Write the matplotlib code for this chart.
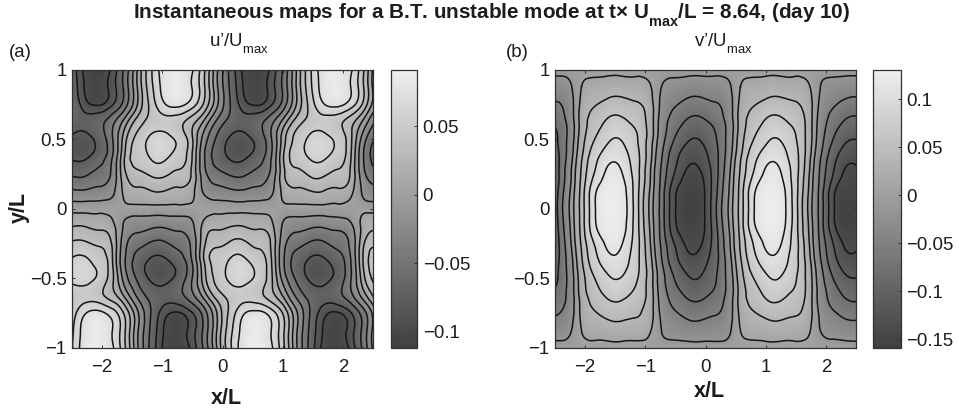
import numpy as np
import matplotlib
matplotlib.use("Agg")
import matplotlib.pyplot as plt
import matplotlib._mathtext as _mt
from matplotlib.colors import LinearSegmentedColormap, Normalize
from matplotlib.cm import ScalarMappable
from matplotlib.tri import Triangulation, UniformTriRefiner

plt.rcParams['font.family'] = ['Liberation Sans', 'DejaVu Sans']
plt.rcParams['mathtext.fontset'] = 'custom'
plt.rcParams['mathtext.rm'] = 'Liberation Sans'
plt.rcParams['mathtext.bf'] = 'Liberation Sans:bold'
plt.rcParams['mathtext.default'] = 'rm'
_mt.FontConstantsBase.sub1 = 0.75

x_cols = [-2.5, -2.28, -2.06, -1.84, -1.62, -1.40, -1.18, -0.96, -0.74, -0.52, -0.30, -0.08,
          0.14, 0.36, 0.58, 0.80, 1.02, 1.24, 1.46, 1.68, 1.90, 2.12, 2.34, 2.56]
y_rows = [1, .875, .75, .625, .5, .375, .25, .125, 0, -.125, -.25, -.375, -.5, -.625, -.75, -.875, -1]

# u'/Umax, in thousandths
u_vals = [
 [-65,-99,-108,-91,-50,10,54,83,90,76,41,-12,-65,-99,-108,-91,-50,10,54,83,90,76,41,-12],
 [-62,-96,-104,-87,-48,10,52,80,87,73,40,-12,-62,-96,-104,-87,-48,10,52,80,87,73,40,-12],
 [-58,-88,-96,-81,-44,9,46,71,77,65,35,-11,-58,-88,-96,-81,-44,9,46,71,77,65,35,-11],
 [-64,-72,-64,-42,-3,31,45,50,45,30,2,-40,-64,-72,-64,-42,-3,31,45,50,45,30,2,-40],
 [-82,-85,-71,-38,17,45,60,62,52,28,-23,-61,-82,-85,-71,-38,17,45,60,62,52,28,-23,-61],
 [-82,-82,-68,-37,24,47,58,59,49,26,-33,-66,-82,-82,-68,-37,24,47,58,59,49,26,-33,-66],
 [-59,-59,-50,-30,20,35,42,42,36,22,-27,-49,-59,-59,-50,-30,20,35,42,42,36,22,-27,-49],
 [-30,-31,-27,-18,12,19,22,22,19,12,-16,-26,-30,-31,-27,-18,12,19,22,22,19,12,-16,-26],
 [0,0,0,0,0,0,0,0,0,0,0,0,0,0,0,0,0,0,0,0,0,0,0,0],
 [22,22,19,12,-16,-26,-30,-31,-27,-18,12,19,22,22,19,12,-16,-26,-30,-31,-27,-18,12,19],
 [42,42,36,22,-27,-49,-59,-59,-50,-30,20,35,42,42,36,22,-27,-49,-59,-59,-50,-30,20,35],
 [58,59,49,26,-33,-66,-82,-82,-68,-37,24,47,58,59,49,26,-33,-66,-82,-82,-68,-37,24,47],
 [60,62,52,28,-23,-61,-82,-85,-71,-38,17,45,60,62,52,28,-23,-61,-82,-85,-71,-38,17,45],
 [45,50,45,30,2,-40,-64,-72,-64,-42,-3,31,45,50,45,30,2,-40,-64,-72,-64,-42,-3,31],
 [46,71,77,65,35,-11,-58,-88,-96,-81,-44,9,46,71,77,65,35,-11,-58,-88,-96,-81,-44,9],
 [52,80,87,73,40,-12,-62,-96,-104,-87,-48,10,52,80,87,73,40,-12,-62,-96,-104,-87,-48,10],
 [54,83,90,76,41,-12,-65,-99,-108,-91,-50,10,54,83,90,76,41,-12,-65,-99,-108,-91,-50,10],
]

# v'/Umax, in thousandths
v_vals = [
 [0,0,0,0,0,0,0,0,0,0,0,0,0,0,0,0,0,0,0,0,0,0,0,0],
 [-31,-22,10,21,25,26,24,17,-13,-27,-33,-34,-31,-22,10,21,25,26,24,17,-13,-27,-33,-34],
 [-53,-34,16,38,48,50,44,28,-19,-46,-59,-61,-53,-34,16,38,48,50,44,28,-19,-46,-59,-61],
 [-73,-41,21,53,69,71,60,34,-26,-64,-84,-87,-73,-41,21,53,69,71,60,34,-26,-64,-84,-87],
 [-86,-43,26,65,86,89,71,35,-32,-80,-106,-108,-86,-43,26,65,86,89,71,35,-32,-80,-106,-108],
 [-94,-39,36,81,104,103,78,32,-44,-98,-126,-124,-94,-39,36,81,104,103,78,32,-44,-98,-126,-124],
 [-99,-31,44,92,117,114,82,26,-53,-110,-140,-137,-99,-31,44,92,117,114,82,26,-53,-110,-140,-137],
 [-97,-24,50,108,126,122,84,20,-59,-128,-150,-144,-97,-24,50,108,126,122,84,20,-59,-128,-150,-144],
 [-93,-19,51,110,130,124,85,16,-60,-130,-155,-146,-93,-19,51,110,130,124,85,16,-60,-130,-155,-146],
 [-97,-24,50,108,126,122,84,20,-59,-128,-150,-144,-97,-24,50,108,126,122,84,20,-59,-128,-150,-144],
 [-99,-31,44,92,117,114,82,26,-53,-110,-140,-137,-99,-31,44,92,117,114,82,26,-53,-110,-140,-137],
 [-94,-39,36,81,104,103,78,32,-44,-98,-126,-124,-94,-39,36,81,104,103,78,32,-44,-98,-126,-124],
 [-86,-43,26,65,86,89,71,35,-32,-80,-106,-108,-86,-43,26,65,86,89,71,35,-32,-80,-106,-108],
 [-73,-41,21,53,69,71,60,34,-26,-64,-84,-87,-73,-41,21,53,69,71,60,34,-26,-64,-84,-87],
 [-53,-34,16,38,48,50,44,28,-19,-46,-59,-61,-53,-34,16,38,48,50,44,28,-19,-46,-59,-61],
 [-31,-22,10,21,25,26,24,17,-13,-27,-33,-34,-31,-22,10,21,25,26,24,17,-13,-27,-33,-34],
 [0,0,0,0,0,0,0,0,0,0,0,0,0,0,0,0,0,0,0,0,0,0,0,0],
]

u_levels = [-.094, -.078, -.056, -.034, -.012, .006, .0225, .039, .0555, .072]
v_levels = [-.135, -.11, -.08, -.05, -.014, .01, .04, .065, .09, .112]
u_range = (-.1117, .0916)
v_range = (-.159, .1307)

x_ticks = [-2, -1, 0, 1, 2]
x_ticklabels = ['\u22122', '\u22121', '0', '1', '2']
y_ticks = [-1, -.5, 0, .5, 1]
y_ticklabels = ['\u22121', '\u22120.5', '0', '0.5', '1']
u_cticks = [-.1, -.05, 0, .05]
u_cticklabels = ['\u22120.1', '\u22120.05', '0', '0.05']
v_cticks = [-.15, -.1, -.05, 0, .05, .1]
v_cticklabels = ['\u22120.15', '\u22120.1', '\u22120.05', '0', '0.05', '0.1']

W, H = 959, 413
fig = plt.figure(figsize=(W / 100, H / 100), dpi=100)
grays = [(.25, .25, .25), (.93, .93, .93)]
cmap = LinearSegmentedColormap.from_list('g', grays, N=64)
smooth = LinearSegmentedColormap.from_list('s', grays, N=256)
edge = '#303030'
FS = 13.4


def axpx(l, r, t, b):
    return fig.add_axes([l / W, 1 - b / H, (r - l) / W, (b - t) / H])


def panel(l, r, cl, cr, vals, levels, rng, cticks, cticklabels):
    X, Y = np.meshgrid(x_cols, y_rows)
    Z = np.array(vals) / 1000.0
    ax = axpx(l, r, 69.5, 348)
    norm = Normalize(*rng)
    tri = Triangulation(X.ravel(), Y.ravel())
    fine_tri, fine_z = UniformTriRefiner(tri).refine_field(Z.ravel(), subdiv=3)
    ax.tripcolor(fine_tri, fine_z, cmap=smooth, norm=norm, shading='gouraud')
    ax.tricontour(fine_tri, fine_z, levels=levels, colors='#151515', linewidths=1.1, linestyles='solid')
    ax.set_xlim(-2.5, 2.5)
    ax.set_ylim(-1, 1)
    ax.set_xticks(x_ticks, x_ticklabels)
    ax.set_yticks(y_ticks, y_ticklabels)
    ax.tick_params(direction='in', length=2.5, width=.7, labelsize=FS, color=edge, labelcolor='#1c1c1c',
                   top=True, right=True, pad=4)
    ax.tick_params(axis='x', pad=8)
    for s in ax.spines.values():
        s.set_color(edge)
        s.set_linewidth(.9)
    cax = axpx(cl, cr, 69.5, 348)
    cb = fig.colorbar(ScalarMappable(norm=norm, cmap=cmap), cax=cax)
    cb.set_ticks(cticks, labels=cticklabels)
    cb.ax.tick_params(direction='in', length=2.5, width=.7, labelsize=FS, color=edge, labelcolor='#1c1c1c', pad=4)
    cb.outline.set_edgecolor(edge)
    cb.outline.set_linewidth(.9)
    return ax


panel(72, 373, 390.5, 417, u_vals, u_levels, u_range, u_cticks, u_cticklabels)
panel(555, 856, 873, 900.5, v_vals, v_levels, v_range, v_cticks, v_cticklabels)


def txt(px, py, s, **kw):
    kw.setdefault('ha', 'center')
    kw.setdefault('va', 'baseline')
    kw.setdefault('color', '#1c1c1c')
    fig.text(px / W, 1 - py / H, s, **kw)


txt(491.5, 18.5, 'Instantaneous maps for a B.T. unstable mode at t\u00d7 U$_{\\mathbf{max}}$/L = 8.64, (day 10)',
    fontsize=14.9, fontweight='bold')
txt(239, 46.5, "u\u2019/U$_{max}$", fontsize=FS)
txt(723, 46.5, "v\u2019/U$_{max}$", fontsize=FS)
txt(20.5, 57, '(a)', fontsize=FS)
txt(517.5, 57, '(b)', fontsize=FS)
txt(226, 404, 'x/L', fontsize=15.5, fontweight='bold')
txt(709, 397, 'x/L', fontsize=15.5, fontweight='bold')
txt(19.5, 207, 'y/L', fontsize=15.5, fontweight='bold', rotation=90, va='center', rotation_mode='anchor')

fig.savefig('out.png', dpi=100)
